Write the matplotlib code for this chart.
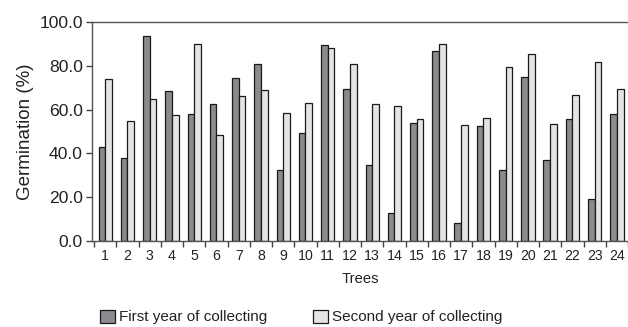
import matplotlib
matplotlib.use("Agg")
import matplotlib.pyplot as plt
import numpy as np
from matplotlib.patches import Patch

plt.rcParams['font.family'] = ['Liberation Sans', 'DejaVu Sans']

trees = [str(i) for i in range(1, 25)]
first_year = [43.1, 37.9, 93.6, 68.6, 58.1, 62.6, 74.4, 81.0, 32.3, 49.2,
              89.5, 69.3, 34.8, 12.9, 53.9, 86.6, 8.4, 52.7, 32.6, 74.9,
              37.0, 55.6, 19.3, 57.8]
second_year = [74.0, 54.8, 64.7, 57.4, 90.1, 48.5, 66.4, 69.1, 58.6, 63.2,
               88.3, 80.7, 62.7, 61.8, 55.8, 90.1, 52.8, 56.3, 79.5, 85.2,
               53.6, 66.7, 81.6, 69.4]
y_ticks = [0, 20, 40, 60, 80, 100]
legend_labels = ["First year of collecting", "Second year of collecting"]

dark = "#8b8b8f"
light = "#e4e4e4"

W, H = 628, 327
fig = plt.figure(figsize=(W / 100, H / 100), dpi=100)
ax = fig.add_axes([92 / W, (H - 241) / H, (628 - 92) / W, (241 - 22) / H])

x = np.arange(len(trees))
bw = 0.3
ax.bar(x - bw / 2, first_year, bw, color=dark, edgecolor="#1a1a1a", linewidth=0.9)
ax.bar(x + bw / 2, second_year, bw, color=light, edgecolor="#1a1a1a", linewidth=0.9)

ax.set_xlim(-0.595, 23.39)
ax.set_ylim(0, 100)
ax.set_yticks(y_ticks)
ax.set_yticklabels([f"{v:.1f}" for v in y_ticks], fontsize=12.6, color="#222222")
ax.set_xticks(x)
ax.set_xticklabels(trees, fontsize=10.2, color="#222222")
ax.set_xticks(np.arange(-0.5, 24, 1), minor=True)
ax.tick_params(axis="x", which="major", length=0, pad=6)
ax.tick_params(axis="x", which="minor", length=4, width=1, color="#444444", direction="out")
ax.tick_params(axis="y", length=4.5, width=1, color="#444444", direction="out", pad=2)

for s in ["left", "bottom", "top"]:
    ax.spines[s].set_color("#555555")
    ax.spines[s].set_linewidth(1.0)
ax.spines["right"].set_visible(False)

ax.set_ylabel("Germination (%)", fontsize=13.5, color="#222222", labelpad=4)
ax.set_xlabel("Trees", fontsize=10.6, color="#222222", labelpad=6)

handles = [Patch(facecolor=dark, edgecolor="#1a1a1a", linewidth=0.9),
           Patch(facecolor=light, edgecolor="#1a1a1a", linewidth=0.9)]
fig.legend(handles, legend_labels, loc="center", bbox_to_anchor=(301 / W, (H - 317) / H),
           ncol=2, frameon=False, fontsize=11, handlelength=1.0, handleheight=0.95,
           handletextpad=0.25, columnspacing=3.0, labelcolor="#222222")

fig.savefig("out.png", dpi=100)
